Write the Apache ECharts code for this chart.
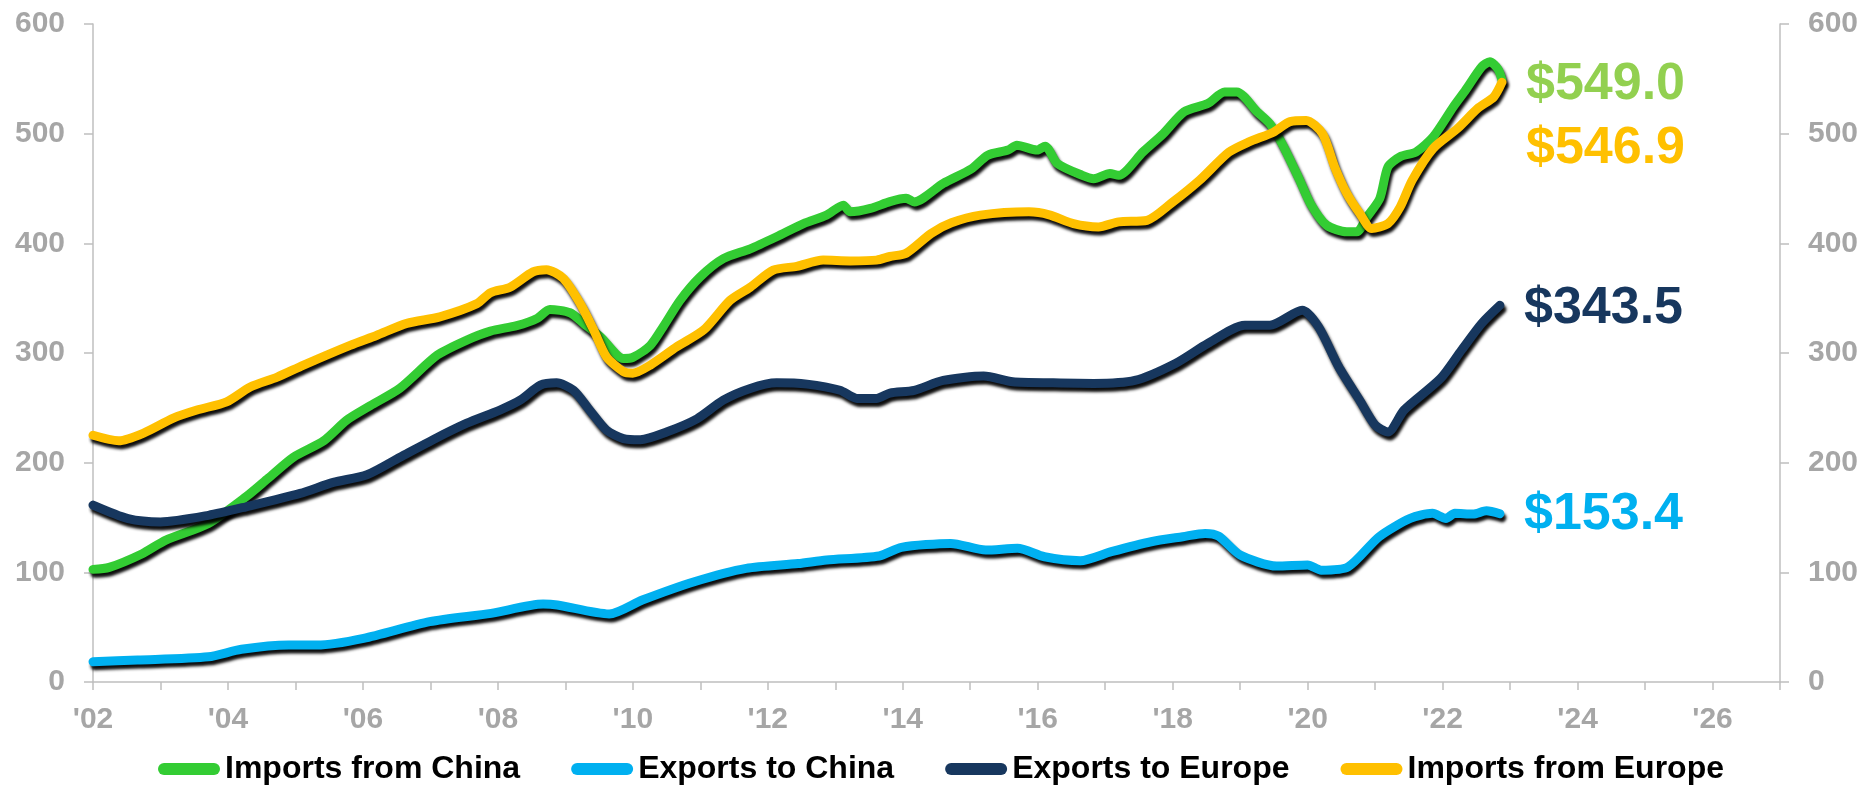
<!DOCTYPE html>
<html>
<head>
<meta charset="utf-8">
<script src="https://cdn.jsdelivr.net/npm/echarts@6/dist/echarts.min.js"></script>
<style>
html,body{margin:0;padding:0;background:#fff;}
#chart{width:1864px;height:786px;}
</style>
</head>
<body>
<div id="chart"></div>
<script>
// ---- data ----
const seriesNames = ['Imports from China', 'Exports to China', 'Exports to Europe', 'Imports from Europe'];

const importsChinaT = [2002.0, 2002.24, 2002.73, 2003.08, 2003.71, 2004.27, 2004.6, 2004.97, 2005.42, 2005.76, 2006.11, 2006.55, 2007.1, 2007.54, 2007.89, 2008.28, 2008.58, 2008.77, 2009.07, 2009.27, 2009.52, 2009.86, 2010.0, 2010.26, 2010.45, 2010.7, 2011.0, 2011.34, 2011.74, 2012.13, 2012.53, 2012.87, 2013.12, 2013.22, 2013.52, 2013.81, 2014.05, 2014.17, 2014.6, 2015.02, 2015.26, 2015.56, 2015.69, 2015.99, 2016.11, 2016.29, 2016.66, 2016.83, 2017.07, 2017.2, 2017.56, 2017.86, 2018.17, 2018.52, 2018.77, 2018.95, 2019.25, 2019.44, 2019.62, 2019.86, 2020.04, 2020.28, 2020.58, 2020.73, 2020.88, 2021.07, 2021.19, 2021.37, 2021.61, 2021.86, 2022.16, 2022.34, 2022.58, 2022.7, 2022.82, 2022.88];
const importsChinaV = [102.7, 104.5, 117, 129.4, 144.6, 169, 186, 205, 220, 238.8, 252, 268, 298, 311.8, 320, 325, 331.5, 339.7, 336.7, 327, 314.8, 295, 296, 307, 324, 348, 369.5, 386, 395, 406, 418, 425.7, 434.8, 428.7, 431.8, 438, 441, 437.8, 454.6, 468, 480.4, 485, 489.5, 485, 488.6, 472.8, 462, 459, 463.7, 462, 483.4, 500, 520, 527.5, 538, 538, 520, 509, 491, 460.6, 436.4, 416.6, 410.5, 410.5, 424, 441, 469.7, 479, 483.4, 497, 524.5, 539.7, 561, 565.5, 559, 549.0];

const exportsChinaT = [2002.0, 2002.66, 2003.71, 2004.2, 2004.9, 2005.32, 2006.01, 2006.99, 2007.9, 2008.67, 2008.88, 2009.65, 2010.14, 2010.91, 2011.68, 2012.45, 2012.87, 2013.65, 2013.98, 2014.71, 2015.23, 2015.7, 2016.1, 2016.63, 2017.09, 2017.68, 2018.15, 2018.48, 2018.68, 2019.0, 2019.54, 2020.0, 2020.2, 2020.6, 2021.06, 2021.52, 2021.85, 2022.05, 2022.18, 2022.45, 2022.65, 2022.85];
const exportsChinaV = [18.5, 20, 23, 29.8, 33.7, 33.7, 39.8, 55, 62.6, 71.1, 70.2, 62, 74.7, 91.4, 103.6, 108, 111.2, 114.9, 122.8, 126.4, 120.3, 121.9, 114.2, 110.6, 118.8, 127.9, 132.5, 135.5, 133, 115.8, 105.7, 106.7, 102, 105, 132.5, 149.2, 153.8, 149.2, 153.8, 153.1, 156.2, 153.4];

const exportsEuropeT = [2002.0, 2002.52, 2003.0, 2003.71, 2004.27, 2005.07, 2005.56, 2006.06, 2006.55, 2007.04, 2007.54, 2008.03, 2008.33, 2008.63, 2008.87, 2009.12, 2009.36, 2009.61, 2009.86, 2010.11, 2010.5, 2010.95, 2011.34, 2011.74, 2012.13, 2012.58, 2013.07, 2013.32, 2013.61, 2013.81, 2014.17, 2014.6, 2015.2, 2015.63, 2016.23, 2016.83, 2017.44, 2018.04, 2018.52, 2019.07, 2019.44, 2019.92, 2020.16, 2020.46, 2020.77, 2021.0, 2021.19, 2021.43, 2021.97, 2022.28, 2022.58, 2022.85];
const exportsEuropeV = [161.3, 149, 146, 152, 159.8, 172, 182, 189, 205, 221, 236, 248, 257, 270.7, 272.8, 266, 248, 229.7, 222, 221, 228, 240, 257, 267.7, 272.8, 271.6, 266, 258.6, 258.6, 263.5, 266, 275, 279, 273.7, 272.8, 272.3, 275, 290.5, 308.7, 325.4, 325.4, 339, 324, 287.4, 257, 234.3, 228, 248, 276.8, 302.6, 327, 343.5];

const importsEuropeT = [2002.0, 2002.38, 2002.75, 2003.19, 2003.54, 2003.98, 2004.33, 2004.73, 2005.12, 2005.81, 2006.2, 2006.65, 2007.14, 2007.69, 2007.89, 2008.18, 2008.52, 2008.72, 2008.97, 2009.22, 2009.42, 2009.61, 2009.86, 2010.0, 2010.26, 2010.65, 2011.05, 2011.44, 2011.74, 2012.08, 2012.43, 2012.82, 2013.22, 2013.61, 2013.81, 2014.05, 2014.42, 2014.72, 2015.15, 2015.87, 2016.17, 2016.53, 2016.9, 2017.2, 2017.62, 2017.98, 2018.4, 2018.83, 2019.13, 2019.5, 2019.74, 2019.98, 2020.22, 2020.4, 2020.58, 2020.77, 2020.95, 2021.19, 2021.37, 2021.55, 2021.86, 2022.22, 2022.52, 2022.76, 2022.88];
const importsEuropeV = [225, 220, 227, 240.6, 248, 255.5, 269, 278, 289, 307, 316, 327, 333, 345, 355, 360, 374, 376, 368, 345, 321, 296.5, 283, 281.6, 289, 305.6, 321, 348, 360, 375.6, 379, 384.7, 384, 384.7, 388, 391, 409, 418.7, 425.7, 428.7, 426, 418, 415, 419.6, 421, 436.6, 457.6, 483, 492.5, 501.6, 511, 512, 500, 469.7, 445.5, 427.5, 413.6, 418, 433, 457.6, 486.5, 504.7, 523, 533.6, 546.9];

const yTicks = [0, 100, 200, 300, 400, 500, 600];
const xMin = 2002, xMax = 2027;

// ---- styles ----
const lineColors = ['#33CC33', '#00B0F0', '#17375E', '#FFC000'];
const labelColors = ['#92D050', '#00B0F0', '#17375E', '#FFC000'];
const labelOffsets = [[0, 5], [0, 1], [0, 3], [0, 66]];
const FONT = '"Liberation Sans", Arial, sans-serif';
const GRAY = '#A6A6A6';
const AXIS = '#BFBFBF';

function pairs(t, v) { return t.map((x, i) => [x, v[i]]); }
const allData = [
  pairs(importsChinaT, importsChinaV),
  pairs(exportsChinaT, exportsChinaV),
  pairs(exportsEuropeT, exportsEuropeV),
  pairs(importsEuropeT, importsEuropeV)
];

const yAxisCommon = {
  type: 'value', min: yTicks[0], max: yTicks[yTicks.length - 1], interval: 100,
  axisLine: { show: true, lineStyle: { color: AXIS, width: 1.5 } },
  axisTick: { show: true, length: 9, lineStyle: { color: AXIS, width: 1.5 } },
  splitLine: { show: false },
  axisLabel: { color: GRAY, fontSize: 30, fontWeight: 'bold', fontFamily: FONT, margin: 28 }
};

const capsule = 'path://M6,0 L56,0 A6,6 0 0 1 56,12 L6,12 A6,6 0 0 1 6,0 Z';

const option = {
  backgroundColor: '#fff',
  animation: false,
  grid: { left: 93, right: 84, top: 24, bottom: 104 },
  xAxis: {
    type: 'value', min: xMin, max: xMax, interval: 1,
    axisLine: { show: true, lineStyle: { color: AXIS, width: 1.5 } },
    axisTick: { show: true, length: 8, lineStyle: { color: AXIS, width: 1.5 } },
    splitLine: { show: false },
    axisLabel: {
      color: GRAY, fontSize: 30, fontWeight: 'bold', fontFamily: FONT, margin: 23,
      formatter: v => (v % 2 === 0 && v < 2027) ? "'" + String(v).slice(2) : ''
    }
  },
  yAxis: [
    Object.assign({ position: 'left' }, yAxisCommon),
    Object.assign({ position: 'right' }, yAxisCommon)
  ],
  legend: {
    left: 153, top: 748,
    itemWidth: 62, itemHeight: 12, itemGap: 51,
    icon: capsule,
    itemStyle: { shadowBlur: 0, shadowOffsetX: 0, shadowOffsetY: 0, shadowColor: 'rgba(0,0,0,0)' },
    textStyle: { color: '#000', fontSize: 32, fontWeight: 'bold', fontFamily: FONT },
    data: seriesNames
  },
  series: seriesNames.map((name, i) => ({
    name: name,
    type: 'line',
    yAxisIndex: 0,
    data: allData[i],
    showSymbol: false,
    symbol: 'none',
    smooth: 0.25,
    color: lineColors[i],
    lineStyle: {
      width: 9, color: lineColors[i], cap: 'round', join: 'round',
      shadowColor: 'rgba(0,0,0,0.95)', shadowBlur: 3, shadowOffsetX: 2, shadowOffsetY: 4
    },
    endLabel: {
      show: true,
      distance: 24,
      offset: labelOffsets[i],
      color: labelColors[i],
      fontSize: 52, fontWeight: 'bold', fontFamily: FONT,
      formatter: p => '$' + p.value[1].toFixed(1)
    },
    z: 2 + i
  }))
};

const chart = echarts.init(document.getElementById('chart'), null, { renderer: 'canvas' });
chart.setOption(option);
</script>
</body>
</html>
